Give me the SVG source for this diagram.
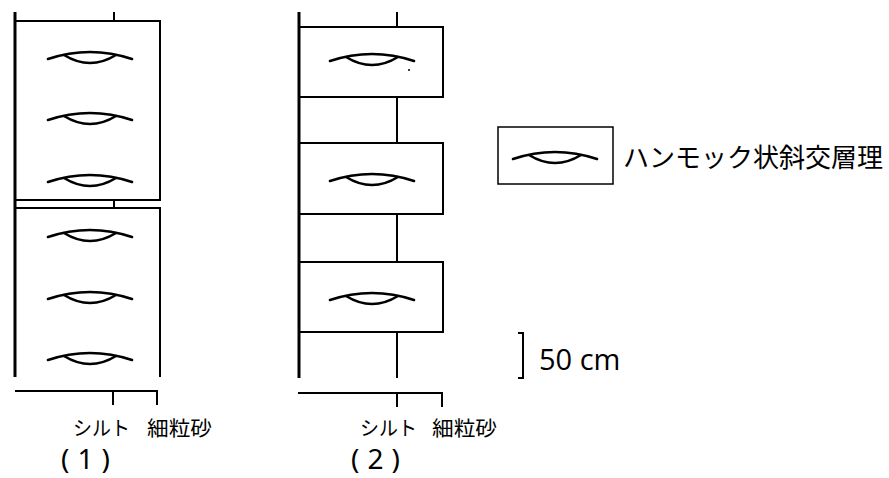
<svg xmlns="http://www.w3.org/2000/svg" width="889" height="478" viewBox="0 0 889 478">
<style>
.ln{stroke:#000;stroke-width:2;fill:none}
.thick{stroke:#000;stroke-width:3;fill:none}
.lens{stroke:#000;stroke-width:2.6;fill:none;stroke-linecap:round}
.jp{font-family:"Noto Sans CJK JP","Noto Sans",sans-serif;fill:#000}
.lat{font-family:"Open Sans","Noto Sans",sans-serif;fill:#000}
.num{font-family:"Noto Sans",sans-serif;font-size:28px;letter-spacing:8px;fill:#000}
</style>
<defs>
<g id="lens">
<path class="lens" d="M-42,2 Q0,-12 42,2"/>
<path class="lens" d="M-26,-2 Q0,14 26,-2"/>
</g>
</defs>
<rect width="889" height="478" fill="#fff"/>
<g id="column1">
<line class="thick" x1="15" y1="12" x2="15" y2="377"/>
<line class="ln" x1="114" y1="12" x2="114" y2="21"/>
<line class="ln" x1="114" y1="200" x2="114" y2="208"/>
<g id="c1-box1"><path class="ln" d="M15,21 H160 V200 H15"/>
<use href="#lens" x="90" y="57"/><use href="#lens" x="90" y="118"/><use href="#lens" x="90" y="180"/></g>
<g id="c1-box2"><path class="ln" d="M15,208 H160 V377"/>
<use href="#lens" x="90" y="235"/><use href="#lens" x="90" y="297"/><use href="#lens" x="90" y="358"/></g>
<g id="c1-axis"><path class="ln" d="M15,391 H157 V405 M113,391 V405"/>
<text class="jp" x="73" y="436" font-size="20" textLength="57" lengthAdjust="spacingAndGlyphs">シルト</text>
<text class="jp" x="147" y="436" font-size="20" textLength="65" lengthAdjust="spacingAndGlyphs">細粒砂</text>
<text class="num" x="61" y="469">(1)</text></g>
</g>
<g id="column2">
<line class="thick" x1="299" y1="12" x2="299" y2="378"/>
<line class="ln" x1="397" y1="12" x2="397" y2="27"/>
<line class="ln" x1="397" y1="97" x2="397" y2="143"/>
<line class="ln" x1="397" y1="214" x2="397" y2="262"/>
<line class="ln" x1="397" y1="332" x2="397" y2="378"/>
<g id="c2-box1"><path class="ln" d="M299,27 H443 V97 H299"/><use href="#lens" x="372" y="59"/><circle cx="409" cy="70" r="1"/></g>
<g id="c2-box2"><path class="ln" d="M299,143 H443 V214 H299"/><use href="#lens" x="372" y="179"/></g>
<g id="c2-box3"><path class="ln" d="M299,262 H443 V332 H299"/><use href="#lens" x="372" y="298"/></g>
<g id="c2-axis"><path class="ln" d="M298,393 H442 V407 M397,393 V407"/>
<text class="jp" x="360" y="436" font-size="20" textLength="57" lengthAdjust="spacingAndGlyphs">シルト</text>
<text class="jp" x="432" y="436" font-size="20" textLength="65" lengthAdjust="spacingAndGlyphs">細粒砂</text>
<text class="num" x="351" y="469">(2)</text></g>
</g>
<g id="legend">
<rect x="498" y="127" width="115" height="57" fill="#fff" stroke="#000" stroke-width="1.5"/>
<use href="#lens" x="555" y="157"/>
<text class="jp" x="623" y="167" font-size="26" textLength="260" lengthAdjust="spacingAndGlyphs">ハンモック状斜交層理</text>
</g>
<g id="scale">
<path class="ln" d="M518,333 H523 V378 H518"/>
<text class="lat" x="539" y="370" font-size="29">50 cm</text>
</g>
</svg>
